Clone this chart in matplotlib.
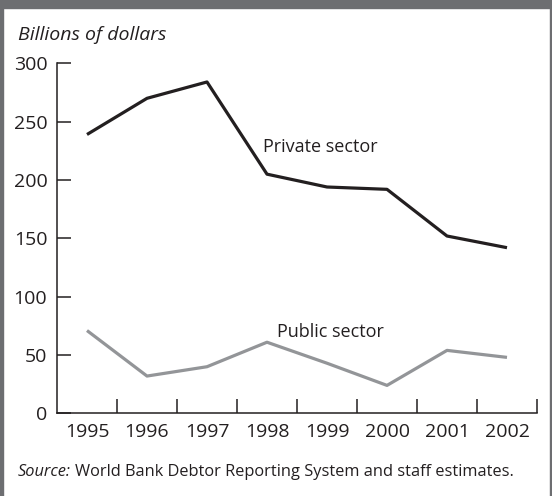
import matplotlib
matplotlib.use('Agg')
import matplotlib.pyplot as plt
from matplotlib.patches import Rectangle

plt.rcParams['font.family'] = ['Open Sans', 'DejaVu Sans']

years = ['1995', '1996', '1997', '1998', '1999', '2000', '2001', '2002']
private_sector = [239, 270, 284, 205, 194, 192, 152, 142]
public_sector = [71, 32, 40, 61, 43, 24, 54, 48]
y_ticks = [0, 50, 100, 150, 200, 250, 300]

frame_gray = '#6d6e71'
dark = '#231f20'
light = '#939598'

W, H = 552, 496
fig = plt.figure(figsize=(W / 100, H / 100), dpi=100)
ax = fig.add_axes([57 / W, 1 - 413.4 / H, 480 / W, 350.1 / H])

x = range(len(years))
ax.plot(x, private_sector, color=dark, lw=2.3, solid_joinstyle='round', solid_capstyle='butt')
ax.plot(x, public_sector, color=light, lw=2.3, solid_joinstyle='round', solid_capstyle='butt')

ax.text(2.93, 224, 'Private sector', fontsize=13, color=dark, ha='left', va='baseline')
ax.text(3.16, 65.7, 'Public sector', fontsize=13, color=dark, ha='left', va='baseline')

ax.set_xlim(-0.5, len(years) - 0.5)
ax.set_ylim(0, 300)
ax.set_yticks(y_ticks)
ax.set_yticklabels([str(v) for v in y_ticks])
# category ticks sit between the years, labels in the middle
ax.set_xticks([i + 0.5 for i in x])
ax.set_xticklabels([])
ax.set_xticks(list(x), minor=True)
ax.set_xticklabels(years, minor=True)
ax.tick_params(axis='x', which='major', direction='in', length=10, width=1.1, color=dark)
ax.tick_params(axis='x', which='minor', length=0, pad=7, labelsize=14, labelcolor=dark)
ax.tick_params(axis='y', direction='in', length=10, width=1.1, color=dark, pad=7,
               labelsize=14, labelcolor=dark)
for s in ['top', 'right']:
    ax.spines[s].set_visible(False)
for s in ['left', 'bottom']:
    ax.spines[s].set_color(dark)
    ax.spines[s].set_linewidth(1.1)

fig.text(18 / W, 1 - 40 / H, 'Billions of dollars', fontsize=14, style='italic',
         color=dark, ha='left', va='baseline')
src = fig.text(18 / W, 1 - 476 / H, 'Source:', fontsize=11.8, style='italic',
               color=dark, ha='left', va='baseline')
fig.canvas.draw()
bb = src.get_window_extent()
fig.text((bb.x1 + 4) / W, 1 - 476 / H, 'World Bank Debtor Reporting System and staff estimates.',
         fontsize=11.8, color=dark, ha='left', va='baseline')

# frame around the figure
fig.patches.append(Rectangle((0, 1 - 8 / H), 1, 8 / H, transform=fig.transFigure,
                             color=frame_gray, zorder=0))
fig.patches.append(Rectangle((0, 0), 3 / W, 1, transform=fig.transFigure,
                             color=frame_gray, zorder=0))
fig.patches.append(Rectangle((1 - 2.5 / W, 0), 2.5 / W, 1, transform=fig.transFigure,
                             color=frame_gray, zorder=0))

fig.savefig('out.png', dpi=100)
